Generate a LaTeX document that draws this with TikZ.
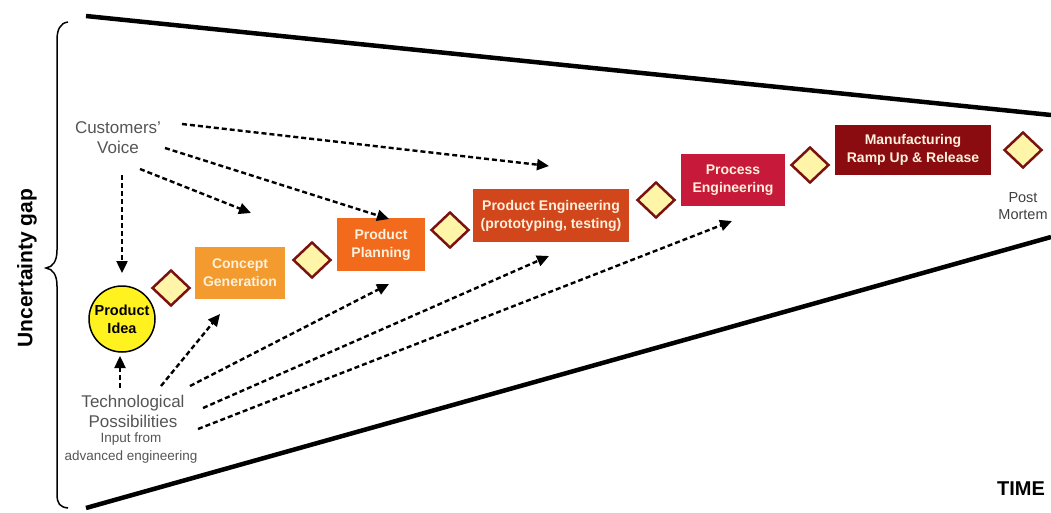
\documentclass[tikz,border=0pt]{standalone}
\usepackage{fontspec}
\setmainfont{Liberation Sans}
\usetikzlibrary{arrows.meta,shapes.geometric}
\definecolor{conceptC}{HTML}{F39B2E}
\definecolor{planC}{HTML}{F26B1D}
\definecolor{prodengC}{HTML}{D2461C}
\definecolor{procC}{HTML}{C71A3A}
\definecolor{manuC}{HTML}{8A0C10}
\definecolor{diaFill}{HTML}{FFF5A8}
\definecolor{diaLine}{HTML}{7A1212}
\definecolor{ideaC}{HTML}{FFF21F}
\definecolor{boxText}{HTML}{FDF0DC}
\definecolor{grayText}{HTML}{555555}
\tikzset{
  stagebox/.style={rectangle, inner sep=0pt, align=center, text=boxText,
     font=\fontsize{14}{18}\selectfont\bfseries},
  gate/.style={diamond, draw=diaLine, fill=diaFill, line width=2.5pt,
     minimum width=38pt, minimum height=36pt, inner sep=0pt},
  dasharrow/.style={line width=2.4pt, dash pattern=on 5pt off 3pt,
     -{Triangle[length=12pt,width=11pt]}},
  graylabel/.style={align=center, text=grayText, font=\fontsize{17}{20}\selectfont},
  edgeline/.style={line width=4.5pt},
}
\begin{document}
\begin{tikzpicture}[x=1pt,y=-1pt]
\useasboundingbox (0,0) rectangle (1051,512);
% funnel lines
\draw[edgeline] (86,16) -- (1051,115);
\draw[edgeline] (86,508) -- (1051,237);
% brace
\draw[line width=1.5pt] (68,22) .. controls (60,23) and (57,30) .. (57,40) -- (57,250)
  .. controls (57,261) and (53,267) .. (46,268) .. controls (53,269) and (57,275) .. (57,286)
  -- (57,494) .. controls (57,504) and (60,507) .. (68,508);
\node[rotate=90, font=\fontsize{21}{24}\selectfont\bfseries] (gap) at (27,268) {Uncertainty gap};
% labels
\node[graylabel] (cv) at (118,138) {Customers'\\Voice};
\node[graylabel] (tp) at (133,411) {Technological\\Possibilities};
\node[align=center, text=grayText, font=\fontsize{13.5}{18}\selectfont] (adv) at (131,448) {Input from\\advanced engineering};
\node[align=center, text=black!75, font=\fontsize{14.5}{17}\selectfont] (pm) at (1023,206) {Post\\Mortem};
\node[font=\fontsize{20}{24}\selectfont\bfseries] (time) at (1021,489) {TIME};
% idea
\node[circle, draw=black, line width=1.5pt, fill=ideaC, minimum size=66pt, inner sep=0pt,
  align=center, font=\fontsize{14.5}{18}\selectfont\bfseries] (idea) at (122,319) {Product\\Idea};
% stages
\node[stagebox, fill=conceptC, minimum width=90pt, minimum height=52pt] (cg) at (240,273) {Concept\\Generation};
\node[stagebox, fill=planC, minimum width=88pt, minimum height=53pt] (pp) at (381,244.5) {Product\\Planning};
\node[stagebox, fill=prodengC, minimum width=156pt, minimum height=53pt] (pe) at (551,215.5) {Product Engineering\\(prototyping, testing)};
\node[stagebox, fill=procC, minimum width=104pt, minimum height=52pt] (proc) at (733,180) {Process\\Engineering};
\node[stagebox, fill=manuC, minimum width=156pt, minimum height=50pt] (manu) at (913,150) {Manufacturing\\Ramp Up \& Release};
% gates
\node[gate] (g1) at (171,288) {};
\node[gate] (g2) at (312,260) {};
\node[gate] (g3) at (450,230) {};
\node[gate] (g4) at (656,200) {};
\node[gate] (g5) at (810,165) {};
\node[gate] (g6) at (1023,150) {};
% arrow end points
\coordinate (c1s) at (182,124); \coordinate (c1e) at (549,166);
\coordinate (c2s) at (165,148); \coordinate (c2e) at (389,219);
\coordinate (c3s) at (140,169); \coordinate (c3e) at (251,213);
\coordinate (c4s) at (122,175); \coordinate (c4e) at (122,273);
\coordinate (t1s) at (120,388); \coordinate (t1e) at (120,356);
\coordinate (t2s) at (161,386); \coordinate (t2e) at (220,314);
\coordinate (t3s) at (190,386); \coordinate (t3e) at (389,284);
\coordinate (t4s) at (203,408); \coordinate (t4e) at (549,256);
\coordinate (t5s) at (198,429); \coordinate (t5e) at (732,221);
\draw[dasharrow] (c1s) -- (c1e);
\draw[dasharrow] (c2s) -- (c2e);
\draw[dasharrow] (c3s) -- (c3e);
\draw[dasharrow] (c4s) -- (c4e);
\draw[dasharrow] (t1s) -- (t1e);
\draw[dasharrow] (t2s) -- (t2e);
\draw[dasharrow] (t3s) -- (t3e);
\draw[dasharrow] (t4s) -- (t4e);
\draw[dasharrow] (t5s) -- (t5e);
\end{tikzpicture}
\end{document}
